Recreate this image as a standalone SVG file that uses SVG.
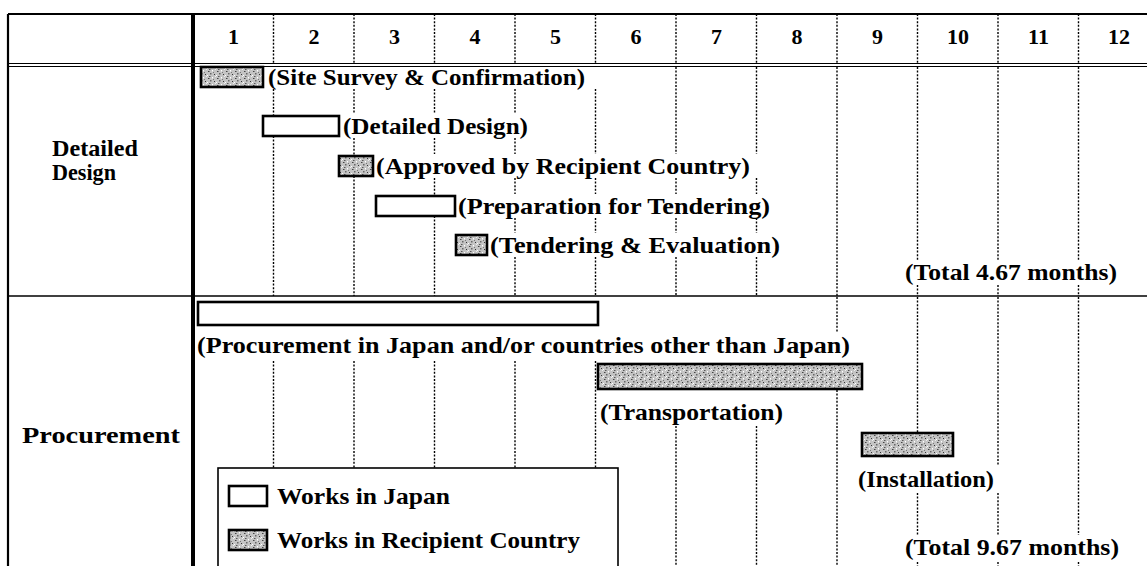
<svg xmlns="http://www.w3.org/2000/svg" width="1147" height="566" viewBox="0 0 1147 566">
<defs>
<pattern id="speck" width="9" height="7" patternUnits="userSpaceOnUse">
<rect width="9" height="7" fill="#c4c4c4"/>
<rect x="1" y="1" width="1.5" height="1" fill="#444"/>
<rect x="5" y="0" width="1" height="1.5" fill="#fff"/>
<rect x="3" y="3" width="1.5" height="1.5" fill="#666"/>
<rect x="7" y="4" width="1" height="1" fill="#333"/>
<rect x="0" y="5" width="1" height="1" fill="#fff"/>
<rect x="6" y="2" width="1" height="1" fill="#777"/>
<rect x="2" y="6" width="1.5" height="1" fill="#555"/>
<rect x="8" y="6" width="1" height="1" fill="#eee"/>
</pattern>
</defs>
<style>
text{font-family:"Liberation Serif","Times New Roman",serif;font-weight:bold;font-size:23px;fill:#000}
.num{text-anchor:middle;font-size:22px}
.frame{stroke:#000;fill:none}
.grid{stroke:#000;stroke-width:1.4;stroke-dasharray:2 1.6;fill:none}
.barW{fill:#fff;stroke:#000;stroke-width:2.6}
.barP{fill:url(#speck);stroke:#000;stroke-width:2.6}
</style>
<rect width="1147" height="566" fill="#fff"/>

<g id="frame">
<line class="frame" x1="8" y1="14" x2="1147" y2="14" stroke-width="2"/>
<line class="frame" x1="8" y1="14" x2="8" y2="566" stroke-width="2.2"/>
<line class="frame" x1="193" y1="14" x2="193" y2="566" stroke-width="4"/>
<line class="frame" x1="8" y1="63.5" x2="1147" y2="63.5" stroke-width="1.2"/>
<line class="frame" x1="8" y1="66.5" x2="1147" y2="66.5" stroke-width="1.2"/>
<line class="frame" x1="8" y1="296" x2="1147" y2="296" stroke-width="1.6"/>
</g>

<g id="connectors">
<path class="grid" d="M273.5 14V63M354 14V63M434.5 14V63M515 14V63M595.5 14V63M676 14V63M756.5 14V63M837 14V63M917.5 14V63M998 14V63M1078.5 14V63"/>
<path class="grid" d="M273.5 89V116M273.5 136V296
M354 89V114M354 138V156M354 176V296
M434.5 89V114M434.5 138V154M434.5 178V196M434.5 216V296
M515 89V114M515 138V154M515 178V194M515 218V233M515 257V296
M595.5 89V154M595.5 178V194M595.5 218V233M595.5 257V296
M676 67V154M676 178V194M676 218V233M676 257V296
M756.5 67V154M756.5 178V194M756.5 218V233M756.5 257V296
M837 67V296
M917.5 67V261M917.5 285V296
M998 67V261M998 285V296
M1078.5 67V261M1078.5 285V296"/>
<path class="grid" d="M273.5 361V468M354 361V468M434.5 361V468M515 361V468M595.5 361V468
M676 426V566M756.5 426V566
M837 297V332M837 390V566
M917.5 297V433M917.5 493V535M917.5 562V566
M998 297V465M998 493V535M998 562V566
M1078.5 297V535M1078.5 562V566"/>
</g>

<g id="header">
<text class="num" x="233.5" y="44">1</text>
<text class="num" x="314" y="44">2</text>
<text class="num" x="394.5" y="44">3</text>
<text class="num" x="475" y="44">4</text>
<text class="num" x="555.5" y="44">5</text>
<text class="num" x="636" y="44">6</text>
<text class="num" x="716.5" y="44">7</text>
<text class="num" x="797" y="44">8</text>
<text class="num" x="877.5" y="44">9</text>
<text class="num" x="958" y="44">10</text>
<text class="num" x="1038.5" y="44">11</text>
<text class="num" x="1119" y="44">12</text>
</g>

<g id="label-detailed-design">
<text x="52" y="156" textLength="86" lengthAdjust="spacingAndGlyphs">Detailed</text>
<text x="52" y="180" textLength="64" lengthAdjust="spacingAndGlyphs">Design</text>
</g>
<g id="label-procurement">
<text x="22" y="443" textLength="158" lengthAdjust="spacingAndGlyphs">Procurement</text>
</g>

<g id="site-survey">
<rect class="barP" x="201" y="67" width="62" height="20"/>
<text x="268" y="85" textLength="317" lengthAdjust="spacingAndGlyphs">(Site Survey &amp; Confirmation)</text>
</g>
<g id="detailed-design">
<rect class="barW" x="263" y="116" width="76" height="20"/>
<text x="343" y="134" textLength="185" lengthAdjust="spacingAndGlyphs">(Detailed Design)</text>
</g>
<g id="approved">
<rect class="barP" x="339" y="156" width="34" height="20"/>
<text x="376" y="174" textLength="374" lengthAdjust="spacingAndGlyphs">(Approved by Recipient Country)</text>
</g>
<g id="preparation">
<rect class="barW" x="376" y="196" width="79" height="20"/>
<text x="458" y="214" textLength="312" lengthAdjust="spacingAndGlyphs">(Preparation for Tendering)</text>
</g>
<g id="tendering">
<rect class="barP" x="456" y="235" width="31" height="20"/>
<text x="490" y="253" textLength="290" lengthAdjust="spacingAndGlyphs">(Tendering &amp; Evaluation)</text>
</g>
<g id="total-design">
<text x="905" y="280" textLength="212" lengthAdjust="spacingAndGlyphs">(Total 4.67 months)</text>
</g>

<g id="procurement">
<rect class="barW" x="198" y="302" width="400" height="23"/>
<text x="197" y="353" textLength="653" lengthAdjust="spacingAndGlyphs">(Procurement in Japan and/or countries other than Japan)</text>
</g>
<g id="transportation">
<rect class="barP" x="598" y="364" width="264" height="25"/>
<text x="600" y="420" textLength="183" lengthAdjust="spacingAndGlyphs">(Transportation)</text>
</g>
<g id="installation">
<rect class="barP" x="862" y="433" width="91" height="23"/>
<text x="858" y="487" textLength="136" lengthAdjust="spacingAndGlyphs">(Installation)</text>
</g>
<g id="total-procurement">
<text x="905" y="555" textLength="214" lengthAdjust="spacingAndGlyphs">(Total 9.67 months)</text>
</g>

<g id="legend">
<rect x="218" y="468" width="400" height="120" fill="#fff" stroke="#000" stroke-width="1.6"/>
<rect class="barW" x="229" y="486" width="38" height="20"/>
<text x="277" y="504" textLength="173" lengthAdjust="spacingAndGlyphs">Works in Japan</text>
<rect class="barP" x="229" y="530" width="38" height="20"/>
<text x="277" y="548" textLength="303" lengthAdjust="spacingAndGlyphs">Works in Recipient Country</text>
</g>
</svg>
